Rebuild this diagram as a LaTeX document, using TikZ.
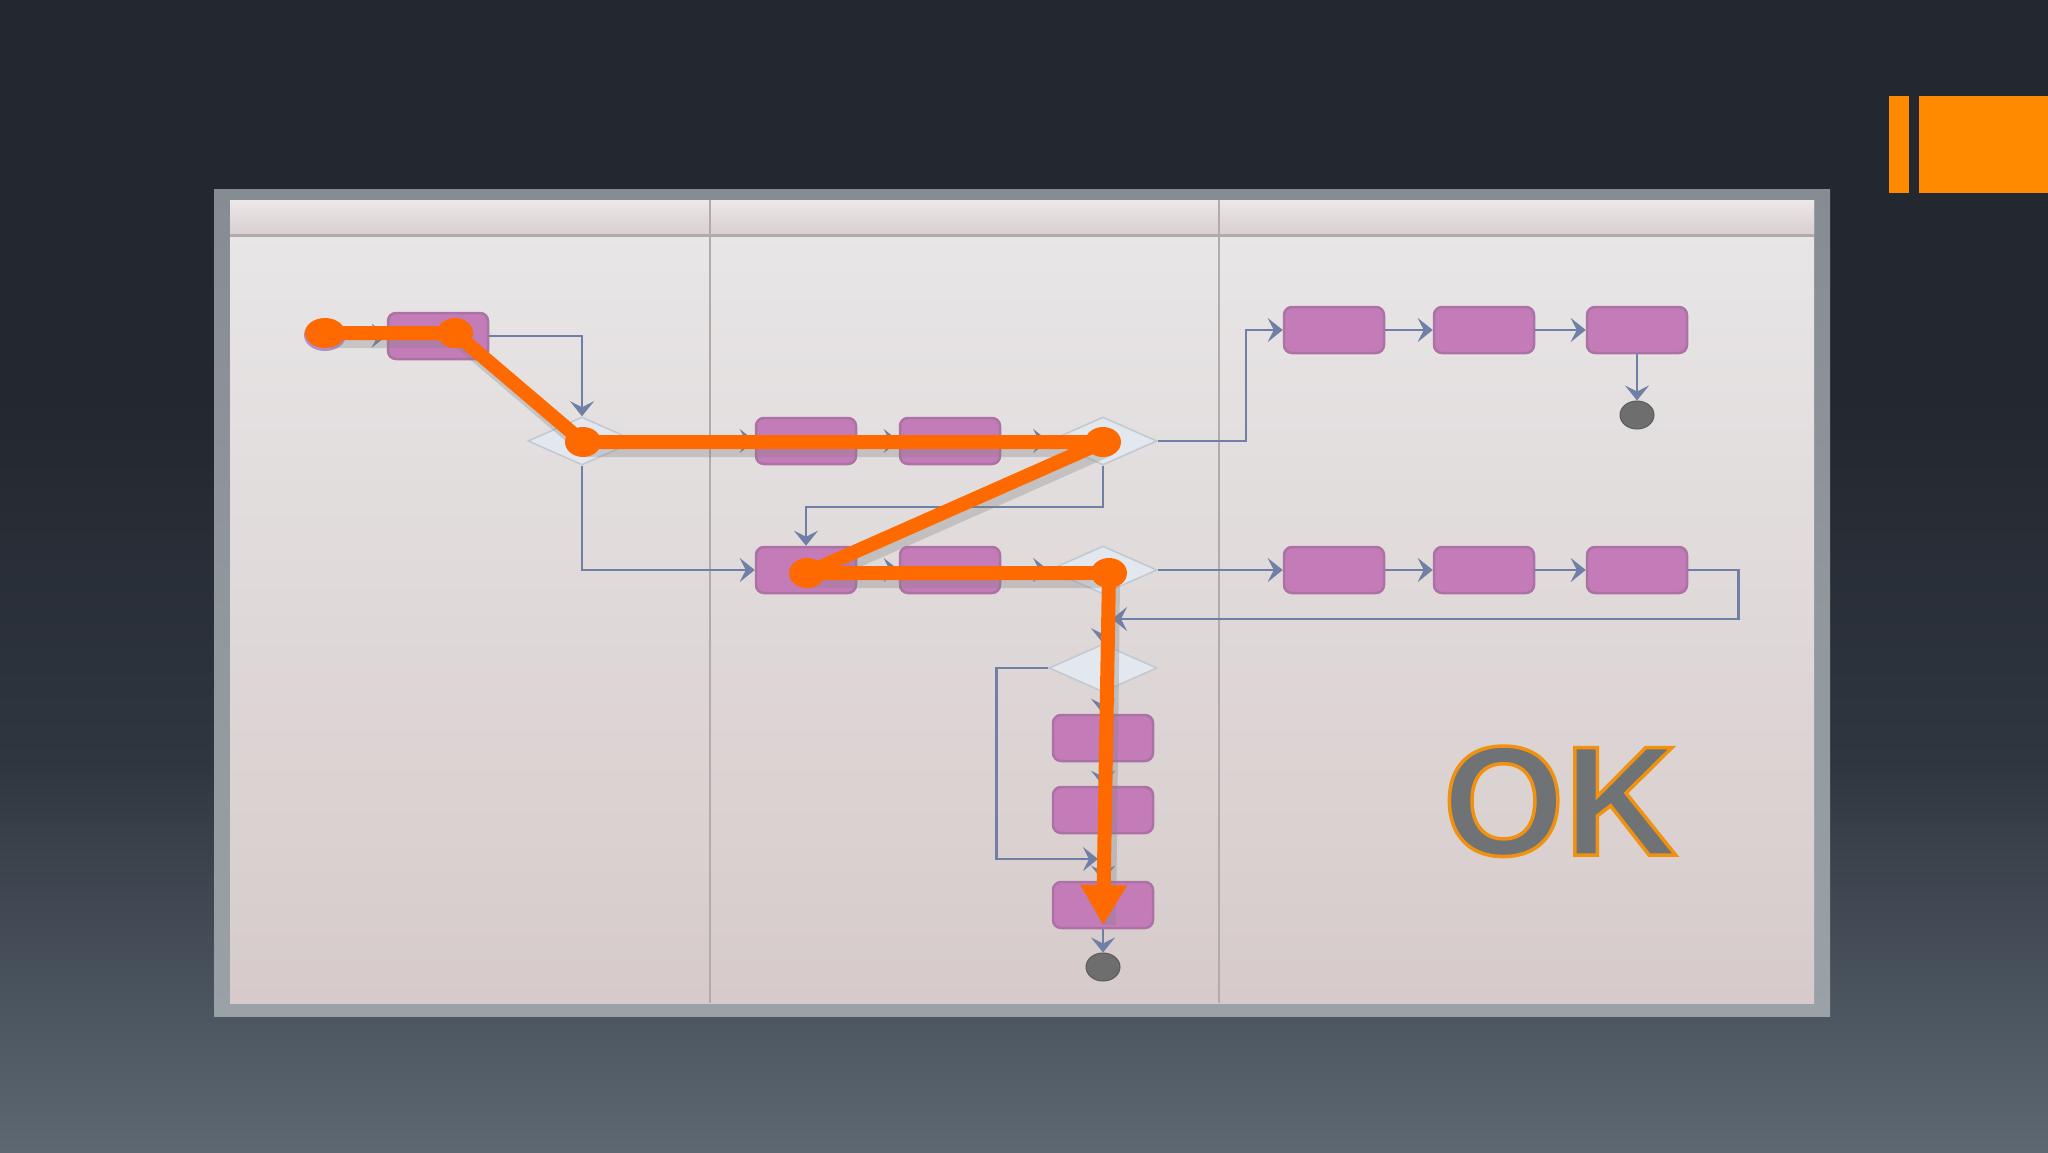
\documentclass[tikz,border=0pt]{standalone}
\usepackage{fontspec}
\setmainfont{Liberation Sans}
\usetikzlibrary{arrows.meta,shapes.geometric}
\definecolor{bgtop}{HTML}{23272F}
\definecolor{bgmid}{HTML}{2F3640}
\definecolor{bgbot}{HTML}{5D6872}
\definecolor{tabor}{HTML}{FF8A00}
\definecolor{frametop}{HTML}{858C92}
\definecolor{framebot}{HTML}{9AA2A8}
\definecolor{paneltop}{HTML}{E9E7E8}
\definecolor{panelbot}{HTML}{D6CBCA}
\definecolor{hdtop}{HTML}{ECE7E8}
\definecolor{hdbot}{HTML}{D9CFCF}
\definecolor{laneline}{HTML}{B3ABAB}
\definecolor{boxfill}{HTML}{C47CB8}
\definecolor{boxline}{HTML}{AD72A5}
\definecolor{decfill}{HTML}{E3E7EE}
\definecolor{decline}{HTML}{C2C8D1}
\definecolor{endfill}{HTML}{6E6E6E}
\definecolor{endline}{HTML}{5A5A5A}
\definecolor{conncol}{HTML}{6F7FA6}
\definecolor{oran}{HTML}{FF6A00}
\definecolor{okgray}{HTML}{707376}
\definecolor{okline}{HTML}{F0920F}
\definecolor{startfill}{HTML}{B58CC4}
\pgfdeclareverticalshading{bgshade}{100bp}{color(0bp)=(bgbot); color(25bp)=(bgbot); color(42bp)=(bgmid); color(58bp)=(bgtop); color(100bp)=(bgtop)}
\newcommand{\outlinedtext}[1]{\special{pdf:code q 2 Tr 3.5 w 0.941 0.573 0.059 RG}#1\special{pdf:code Q}}
\begin{document}
\begin{tikzpicture}[x=1pt,y=-1pt,
  box/.style={rectangle, rounded corners=8pt, fill=boxfill, draw=boxline, line width=2.5pt, minimum width=100pt, minimum height=46pt, inner sep=0pt},
  dec/.style={diamond, fill=decfill, draw=decline, line width=1.5pt, minimum width=108pt, minimum height=48pt, inner sep=0pt},
  endn/.style={ellipse, fill=endfill, draw=endline, line width=1pt, minimum width=34pt, minimum height=28pt, inner sep=0pt},
  startn/.style={ellipse, fill=startfill, minimum width=42pt, minimum height=32pt, inner sep=0pt},
  odot/.style={ellipse, fill=oran, minimum width=36pt, minimum height=30pt, inner sep=0pt},
  conn/.style={draw=conncol, line width=2.5pt, -{Stealth[length=15pt,width=24pt,inset=6pt]}},
  opath/.style={draw=oran, line width=14pt, line join=round},
  oshadow/.style={draw=gray, opacity=0.3, line width=14pt, line join=round}
]
\useasboundingbox (0,0) rectangle (2048,1152);
% background
\shade[shading=bgshade] (0,0) rectangle (2048,1152);
\fill[tabor] (1889,96) rectangle (1909,193);
\fill[tabor] (1919,96) rectangle (2048,193);
% frame and lanes
\shade[top color=frametop, bottom color=framebot] (214,189) rectangle (1830,1016);
\shade[top color=paneltop, bottom color=panelbot] (230,200) rectangle (1814,1003);
\shade[top color=hdtop, bottom color=hdbot] (230,200) rectangle (1814,235);
\draw[laneline, line width=3pt] (230,235) -- (1814,235);
\draw[laneline, line width=2.5pt] (710,200) -- (710,1003);
\draw[laneline, line width=2.5pt] (1219,200) -- (1219,1003);

% nodes
\node[startn] (start) at (325,335) {};
\node[box] (b1) at (438,336) {};
\node[dec] (d1) at (582,441) {};
\node[box] (a) at (806,441) {};
\node[box] (b) at (950,441) {};
\node[dec] (d2) at (1103,441) {};
\node[box] (c) at (806,570) {};
\node[box] (d) at (950,570) {};
\node[dec] (d3) at (1103,570) {};
\node[dec] (d4) at (1103,668) {};
\node[box] (h) at (1103,738) {};
\node[box] (i) at (1103,810) {};
\node[box] (j) at (1103,905) {};
\node[endn] (end2) at (1103,967) {};
\node[box] (e) at (1334,330) {};
\node[box] (f) at (1484,330) {};
\node[box] (g) at (1637,330) {};
\node[endn] (end1) at (1637,415) {};
\node[box] (e2) at (1334,570) {};
\node[box] (f2) at (1484,570) {};
\node[box] (g2) at (1637,570) {};
\coordinate (m1) at (1112,619);
\coordinate (m2) at (1098,859);

% connectors
\draw[conn] (start) -- (b1.west);
\draw[conn] (b1.east) -| (d1.north);
\draw[conn] (d1.east) -- (a.west);
\draw[conn] (a.east) -- (b.west);
\draw[conn] (b.east) -- (d2.west);
\draw[conn] (d1.south) |- (c.west);
\draw[conn] (d2.south) -- ++(0,41) -| (c.north);
\draw[conn] (c.east) -- (d.west);
\draw[conn] (d.east) -- (d3.west);
\draw[conn] (d2.east) -- ++(88,0) |- (e.west);
\draw[conn] (e.east) -- (f.west);
\draw[conn] (f.east) -- (g.west);
\draw[conn] (g.south) -- (end1.north);
\draw[conn] (d3.east) -- (e2.west);
\draw[conn] (e2.east) -- (f2.west);
\draw[conn] (f2.east) -- (g2.west);
\draw[conn] (g2.east) -- ++(50,0) |- (m1);
\draw[conn] (d3.south) -- (d4.north);
\draw[conn] (d4.west) -- ++(-52,0) |- (m2);
\draw[conn] (d4.south) -- (h.north);
\draw[conn] (h.south) -- (i.north);
\draw[conn] (i.south) -- (j.north);
\draw[conn] (j.south) -- (end2.north);

% OK text
\node[anchor=base, text=okgray, font=\bfseries\fontsize{156}{156}\selectfont, inner sep=0pt] (ok) at (1560,855) {\outlinedtext{OK}};

% orange path
\coordinate (o0) at (325,333);
\coordinate (o1) at (455,333);
\coordinate (o2) at (583,442);
\coordinate (o3) at (1103,442);
\coordinate (o4) at (807,573);
\coordinate (o5) at (1109,573);
\coordinate (o6) at (1103,925);
\draw[oshadow] ([shift={(4,8)}]o0) -- ([shift={(4,8)}]o1) -- ([shift={(4,8)}]o2) -- ([shift={(4,8)}]o3) -- ([shift={(4,8)}]o4) -- ([shift={(4,8)}]o5) -- ([shift={(6,0)}]o6);
\draw[opath] (o0) -- (o1) -- (o2) -- (o3) -- (o4) -- (o5);
\draw[opath, -{Triangle[length=40pt,width=44pt]}] (o5) -- (o6);
\node[odot, minimum width=40pt, minimum height=30pt] (p0) at (o0) {};
\node[odot] (p1) at (o1) {};
\node[odot] (p2) at (o2) {};
\node[odot] (p3) at (o3) {};
\node[odot] (p4) at (o4) {};
\node[odot] (p5) at (o5) {};
\end{tikzpicture}
\end{document}
